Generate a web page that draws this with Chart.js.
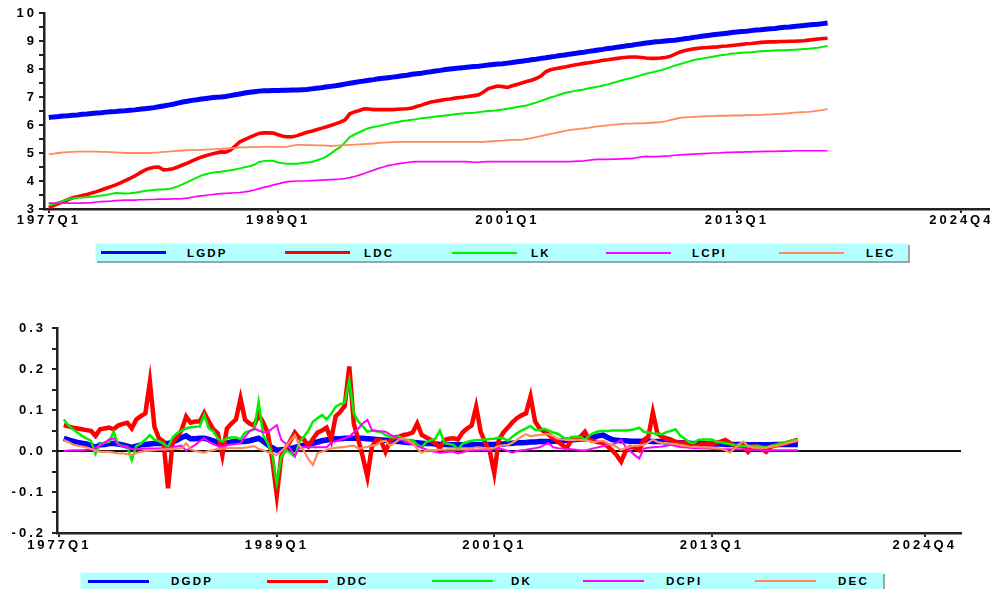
<!DOCTYPE html>
<html>
<head>
<meta charset="utf-8">
<script src="https://cdn.jsdelivr.net/npm/chart.js@4.4.0/dist/chart.umd.min.js"></script>
<style>
  body { margin:0; background:#fff; width:990px; height:589px; position:relative; overflow:hidden; font-family:'Liberation Sans', Arial, sans-serif; }
  canvas { position:absolute; left:0; }
  .legend { position:absolute; background:#b3ffff; border-top:1px solid #dff; border-left:1px solid #dff; box-shadow:2px 2px 0 #9aa6a6; }
  .legend .line { position:absolute; }
  .legend .txt { position:absolute; top:50%; transform:translateY(-50%); font-weight:bold; font-size:11.5px; letter-spacing:2.2px; color:#000; }
</style>
</head>
<body>
<canvas id="levels" width="990" height="236" style="top:0"></canvas>
<div id="levelsLegend" class="legend" style="left:95px; top:243px; width:812px; height:17px"></div>
<canvas id="diffs" width="990" height="262" style="top:300px"></canvas>
<div id="diffsLegend" class="legend" style="left:80px; top:572px; width:802px; height:16px"></div>

<script>
//quarter labels for the time axis, 1977Q1 .. 2026Q4
let quarters = []
for (let y = 1977; y <= 2026; y++) {
    for (let q = 1; q <= 4; q++) quarters.push(y + 'Q' + q)
}
let tickLabels = ['1977Q1', '1989Q1', '2001Q1', '2013Q1', '2024Q4']

let levelNames = ['LGDP', 'LDC', 'LK', 'LCPI', 'LEC']
let diffNames = ['DGDP', 'DDC', 'DK', 'DCPI', 'DEC']

//levels, 1977Q1 .. 2017Q4
let lgdp = [
 6.27,6.29,6.30,6.32,6.33,6.35,6.36,6.38,6.39,6.41,6.43,6.44,
 6.46,6.47,6.48,6.50,6.51,6.53,6.54,6.56,6.58,6.60,6.62,6.65,
 6.68,6.71,6.74,6.78,6.82,6.85,6.88,6.90,6.93,6.95,6.97,6.99,
 7.00,7.02,7.05,7.08,7.11,7.14,7.17,7.19,7.21,7.22,7.22,7.23,
 7.23,7.24,7.24,7.25,7.25,7.26,7.27,7.29,7.31,7.33,7.36,7.38,
 7.40,7.43,7.46,7.49,7.52,7.55,7.57,7.60,7.62,7.65,7.67,7.69,
 7.71,7.73,7.76,7.78,7.81,7.83,7.85,7.88,7.90,7.93,7.95,7.98,
 8.00,8.02,8.04,8.05,8.07,8.09,8.10,8.12,8.14,8.16,8.18,8.19,
 8.21,8.23,8.26,8.28,8.30,8.33,8.35,8.38,8.40,8.43,8.45,8.48,
 8.50,8.53,8.55,8.58,8.60,8.63,8.65,8.68,8.70,8.73,8.75,8.78,
 8.80,8.83,8.85,8.88,8.90,8.93,8.95,8.97,8.98,9.00,9.02,9.03,
 9.05,9.08,9.10,9.13,9.15,9.18,9.20,9.22,9.24,9.26,9.28,9.30,
 9.32,9.34,9.35,9.37,9.39,9.40,9.42,9.44,9.45,9.47,9.49,9.50,
 9.52,9.54,9.55,9.57,9.59,9.60,9.62,9.64]
let ldc = [
 3.05,3.12,3.19,3.26,3.33,3.40,3.44,3.48,3.52,3.57,3.62,3.68,
 3.74,3.80,3.86,3.93,4.01,4.09,4.18,4.28,4.38,4.45,4.49,4.50,
 4.40,4.41,4.44,4.50,4.57,4.64,4.72,4.79,4.86,4.91,4.96,5.00,
 5.04,5.03,5.10,5.25,5.40,5.48,5.56,5.63,5.70,5.72,5.72,5.71,
 5.65,5.60,5.58,5.58,5.62,5.68,5.74,5.78,5.83,5.88,5.93,5.98,
 6.04,6.10,6.18,6.40,6.47,6.52,6.58,6.57,6.55,6.55,6.55,6.55,
 6.55,6.56,6.57,6.58,6.61,6.66,6.71,6.77,6.82,6.85,6.88,6.91,
 6.93,6.96,6.98,7.00,7.03,7.05,7.08,7.18,7.30,7.35,7.39,7.37,
 7.34,7.40,7.45,7.50,7.55,7.60,7.66,7.75,7.90,7.97,8.01,8.04,
 8.07,8.11,8.14,8.17,8.20,8.22,8.25,8.28,8.31,8.33,8.36,8.38,
 8.40,8.42,8.43,8.43,8.41,8.39,8.38,8.38,8.39,8.41,8.45,8.52,
 8.60,8.65,8.69,8.72,8.74,8.76,8.77,8.78,8.79,8.81,8.82,8.84,
 8.86,8.88,8.90,8.91,8.93,8.95,8.96,8.97,8.97,8.98,8.98,8.99,
 8.99,9.00,9.01,9.03,9.05,9.07,9.09,9.10]
let lk = [
 3.12,3.18,3.24,3.29,3.34,3.38,3.40,3.41,3.42,3.44,3.46,3.48,
 3.50,3.54,3.57,3.56,3.55,3.56,3.58,3.61,3.64,3.66,3.68,3.70,
 3.70,3.71,3.75,3.81,3.88,3.96,4.04,4.12,4.20,4.25,4.29,4.31,
 4.33,4.36,4.38,4.41,4.45,4.49,4.53,4.58,4.68,4.71,4.72,4.72,
 4.66,4.63,4.62,4.62,4.62,4.64,4.66,4.68,4.73,4.79,4.86,4.98,
 5.10,5.21,5.38,5.57,5.66,5.74,5.82,5.89,5.93,5.96,6.00,6.04,
 6.08,6.11,6.14,6.16,6.19,6.21,6.24,6.26,6.28,6.30,6.32,6.34,
 6.36,6.38,6.40,6.42,6.43,6.44,6.46,6.48,6.50,6.51,6.53,6.55,
 6.58,6.61,6.64,6.67,6.70,6.75,6.80,6.86,6.92,6.98,7.03,7.09,
 7.14,7.18,7.21,7.24,7.27,7.31,7.34,7.37,7.41,7.45,7.50,7.55,
 7.60,7.64,7.68,7.73,7.78,7.83,7.87,7.91,7.95,8.00,8.06,8.12,
 8.17,8.22,8.27,8.32,8.35,8.38,8.41,8.44,8.47,8.50,8.52,8.55,
 8.56,8.58,8.59,8.60,8.62,8.63,8.64,8.65,8.66,8.67,8.67,8.68,
 8.69,8.70,8.71,8.72,8.74,8.76,8.79,8.82]
let lcpi = [
 3.21,3.21,3.21,3.21,3.21,3.21,3.21,3.21,3.22,3.23,3.25,3.26,
 3.27,3.28,3.30,3.31,3.32,3.32,3.32,3.33,3.33,3.34,3.34,3.35,
 3.35,3.35,3.36,3.36,3.37,3.39,3.42,3.45,3.47,3.49,3.51,3.53,
 3.55,3.56,3.57,3.58,3.59,3.61,3.64,3.68,3.73,3.77,3.81,3.86,
 3.90,3.94,3.98,3.99,4.00,4.00,4.00,4.01,4.02,4.03,4.04,4.05,
 4.06,4.07,4.09,4.12,4.16,4.21,4.27,4.33,4.39,4.45,4.50,4.55,
 4.58,4.61,4.64,4.66,4.68,4.69,4.69,4.69,4.69,4.69,4.69,4.69,
 4.69,4.69,4.69,4.69,4.68,4.67,4.67,4.68,4.69,4.69,4.69,4.69,
 4.69,4.69,4.69,4.69,4.69,4.69,4.69,4.69,4.69,4.69,4.69,4.69,
 4.69,4.69,4.70,4.71,4.72,4.74,4.76,4.77,4.77,4.77,4.78,4.78,
 4.79,4.80,4.80,4.83,4.86,4.88,4.87,4.87,4.88,4.89,4.90,4.92,
 4.93,4.94,4.95,4.96,4.97,4.98,4.99,5.00,5.00,5.01,5.02,5.02,
 5.03,5.03,5.04,5.04,5.05,5.05,5.06,5.06,5.06,5.07,5.07,5.07,
 5.08,5.08,5.08,5.08,5.08,5.08,5.08,5.08]
let lec = [
 4.95,4.98,5.00,5.02,5.03,5.04,5.05,5.05,5.05,5.05,5.05,5.04,
 5.04,5.03,5.02,5.01,5.00,5.00,5.00,5.00,5.00,5.00,5.01,5.02,
 5.04,5.05,5.07,5.08,5.09,5.10,5.10,5.11,5.11,5.12,5.13,5.14,
 5.15,5.16,5.17,5.18,5.20,5.20,5.21,5.21,5.21,5.22,5.22,5.22,
 5.22,5.22,5.23,5.26,5.29,5.29,5.28,5.28,5.27,5.27,5.26,5.25,
 5.26,5.27,5.28,5.29,5.30,5.31,5.32,5.33,5.34,5.36,5.37,5.38,
 5.39,5.40,5.40,5.40,5.40,5.40,5.40,5.40,5.40,5.40,5.40,5.40,
 5.40,5.40,5.40,5.40,5.40,5.40,5.40,5.40,5.41,5.42,5.43,5.44,
 5.46,5.47,5.47,5.48,5.50,5.53,5.57,5.60,5.64,5.68,5.71,5.75,
 5.79,5.82,5.84,5.86,5.88,5.90,5.93,5.95,5.97,5.99,6.01,6.02,
 6.04,6.05,6.05,6.06,6.06,6.07,6.08,6.09,6.10,6.13,6.17,6.21,
 6.25,6.27,6.28,6.29,6.30,6.31,6.32,6.32,6.33,6.33,6.33,6.34,
 6.34,6.34,6.35,6.35,6.35,6.36,6.37,6.38,6.39,6.40,6.41,6.42,
 6.44,6.45,6.46,6.47,6.49,6.51,6.54,6.57]

//differences, first quarter empty
let dgdp = [null,
 0.031,0.027,0.024,0.021,0.019,0.017,0.014,0.009,0.015,0.016,0.018,0.018,
 0.017,0.015,0.012,0.009,0.012,0.015,0.016,0.017,0.018,0.018,0.018,0.018,
 0.022,0.027,0.033,0.037,0.030,0.030,0.031,0.031,0.028,0.025,0.020,0.016,
 0.019,0.022,0.023,0.023,0.023,0.025,0.028,0.031,0.024,0.015,0.008,0.002,
 0.003,0.004,0.006,0.009,0.012,0.014,0.017,0.019,0.022,0.025,0.027,0.029,
 0.030,0.030,0.031,0.031,0.031,0.031,0.031,0.030,0.029,0.028,0.027,0.026,
 0.025,0.024,0.023,0.022,0.021,0.021,0.020,0.019,0.018,0.018,0.017,0.016,
 0.016,0.015,0.015,0.015,0.015,0.015,0.015,0.015,0.015,0.015,0.016,0.016,
 0.017,0.017,0.018,0.019,0.020,0.020,0.021,0.022,0.022,0.023,0.023,0.023,
 0.024,0.024,0.025,0.026,0.027,0.028,0.029,0.030,0.031,0.034,0.037,0.039,
 0.033,0.028,0.026,0.025,0.025,0.024,0.024,0.024,0.024,0.024,0.023,0.023,
 0.023,0.022,0.022,0.021,0.020,0.020,0.019,0.018,0.018,0.018,0.017,0.017,
 0.017,0.017,0.016,0.016,0.016,0.016,0.016,0.015,0.015,0.015,0.015,0.015,
 0.015,0.016,0.016,0.016,0.016,0.016,0.016]
let ddc = [null,
 0.063,0.060,0.057,0.055,0.053,0.051,0.049,0.037,0.053,0.055,0.057,0.053,
 0.062,0.066,0.069,0.055,0.077,0.085,0.092,0.169,0.059,0.031,0.023,-0.091,
 0.019,0.035,0.051,0.084,0.069,0.072,0.072,0.093,0.072,0.053,0.043,-0.010,
 0.055,0.067,0.077,0.128,0.076,0.067,0.062,0.088,0.070,0.045,-0.020,-0.108,
 -0.012,0.006,0.025,0.045,0.031,0.028,0.012,0.030,0.045,0.050,0.057,0.027,
 0.085,0.095,0.110,0.206,0.067,0.027,-0.015,-0.063,0.011,0.027,0.025,-0.002,
 0.025,0.033,0.035,0.039,0.041,0.045,0.067,0.039,0.033,0.027,0.018,0.007,
 0.027,0.030,0.031,0.028,0.045,0.055,0.062,0.108,0.047,0.020,0.000,-0.054,
 0.027,0.045,0.057,0.070,0.080,0.087,0.092,0.133,0.072,0.055,0.047,0.040,
 0.031,0.023,0.015,0.007,0.027,0.028,0.035,0.047,0.027,0.024,0.021,0.020,
 0.011,0.002,-0.010,-0.026,0.000,0.010,0.008,0.002,0.027,0.035,0.094,0.043,
 0.035,0.031,0.028,0.022,0.020,0.020,0.017,0.012,0.015,0.017,0.017,0.017,
 0.020,0.023,0.027,0.020,0.013,0.014,0.012,-0.002,0.010,0.012,0.005,-0.002,
 0.010,0.013,0.016,0.018,0.021,0.024,0.028]
let dk = [null,
 0.077,0.063,0.053,0.045,0.037,0.031,0.025,-0.007,0.017,0.020,0.022,0.047,
 0.016,0.012,0.010,-0.022,0.012,0.018,0.028,0.039,0.027,0.024,0.018,0.009,
 0.033,0.043,0.050,0.055,0.058,0.059,0.060,0.088,0.055,0.048,0.030,0.023,
 0.031,0.033,0.033,0.029,0.045,0.049,0.052,0.120,0.039,0.019,-0.010,-0.079,
 -0.014,0.002,-0.005,-0.014,0.023,0.035,0.050,0.072,0.080,0.088,0.077,0.090,
 0.108,0.114,0.118,0.173,0.092,0.072,0.060,0.047,0.050,0.048,0.046,0.039,
 0.034,0.033,0.035,0.028,0.027,0.027,0.015,0.009,0.022,0.026,0.030,0.050,
 0.019,0.017,0.015,0.004,0.018,0.022,0.025,0.026,0.027,0.028,0.029,0.030,
 0.033,0.031,0.025,0.035,0.043,0.050,0.055,0.061,0.052,0.051,0.054,0.050,
 0.045,0.042,0.035,0.027,0.034,0.035,0.034,0.027,0.038,0.044,0.048,0.049,
 0.049,0.050,0.050,0.050,0.050,0.051,0.053,0.057,0.047,0.045,0.043,0.042,
 0.041,0.046,0.049,0.053,0.038,0.030,0.022,0.019,0.027,0.028,0.028,0.028,
 0.023,0.021,0.019,0.017,0.014,0.012,0.012,0.012,0.012,0.012,0.011,0.009,
 0.012,0.015,0.018,0.021,0.023,0.026,0.028]
let dcpi = [null,
 0.000,0.001,0.002,0.002,0.002,0.003,0.004,0.008,0.013,0.020,0.028,0.031,
 0.015,0.012,0.009,0.005,0.004,0.005,0.006,0.006,0.006,0.006,0.007,0.008,
 0.009,0.011,0.013,0.001,0.008,0.015,0.024,0.031,0.022,0.017,0.012,0.009,
 0.014,0.016,0.017,0.019,0.035,0.048,0.055,0.050,0.046,0.046,0.055,0.063,
 0.027,0.018,0.005,-0.012,0.008,0.010,0.009,0.009,0.009,0.009,0.009,0.020,
 0.024,0.027,0.031,0.035,0.045,0.055,0.068,0.076,0.051,0.049,0.048,0.047,
 0.040,0.035,0.030,0.024,0.020,0.016,0.012,0.008,0.004,0.000,-0.002,-0.004,
 -0.003,-0.002,-0.002,-0.006,-0.003,0.000,0.001,0.002,0.002,0.002,0.003,0.005,
 0.006,0.004,0.000,-0.004,0.000,0.002,0.003,0.005,0.007,0.009,0.015,0.019,
 0.009,0.007,0.006,0.005,0.004,0.003,0.002,0.001,0.004,0.007,0.009,0.012,
 0.015,0.015,0.020,0.027,0.010,0.000,-0.010,-0.018,0.006,0.008,0.009,0.010,
 0.011,0.013,0.015,0.012,0.010,0.009,0.008,0.007,0.007,0.006,0.006,0.005,
 0.005,0.004,0.004,0.004,0.004,0.004,0.004,0.003,0.003,0.003,0.002,0.002,
 0.002,0.002,0.002,0.002,0.002,0.002,0.002]
let dec = [null,
 0.027,0.022,0.016,0.013,0.011,0.009,0.005,0.001,-0.002,-0.002,-0.002,-0.004,
 -0.006,-0.006,-0.008,-0.010,-0.005,-0.002,0.000,0.001,0.002,0.003,0.004,0.004,
 0.005,0.006,0.007,0.019,0.004,0.000,-0.002,-0.004,0.000,0.002,0.005,0.006,
 0.007,0.007,0.007,0.007,0.008,0.010,0.012,0.005,0.002,-0.003,-0.006,-0.010,
 0.000,0.010,0.025,0.039,0.013,0.000,-0.020,-0.034,-0.005,-0.002,0.003,0.006,
 0.008,0.009,0.010,0.012,0.013,0.006,0.008,0.010,0.013,0.015,0.023,0.025,
 0.013,0.020,0.028,0.031,0.025,0.020,0.005,-0.004,0.001,0.002,0.002,0.003,
 0.003,0.004,0.004,0.004,0.004,0.004,0.006,0.009,0.008,0.007,0.006,0.008,
 0.012,0.014,0.015,0.020,0.027,0.035,0.041,0.036,0.038,0.039,0.040,0.041,
 0.036,0.030,0.028,0.027,0.027,0.027,0.027,0.027,0.024,0.021,0.024,0.025,
 0.019,0.015,0.010,0.002,0.008,0.011,0.013,0.014,0.015,0.021,0.028,0.022,
 0.020,0.019,0.018,0.017,0.015,0.013,0.011,0.010,0.010,0.009,0.009,0.008,
 0.007,0.006,0.002,-0.004,0.006,0.016,0.023,0.012,0.009,0.008,0.007,0.008,
 0.010,0.012,0.014,0.017,0.020,0.023,0.025]

let colors = ['#0000ff', '#ff0000', '#00ee00', '#ff00ff', '#ff8a5c']
let levelWidths = [5, 3.6, 2, 1.7, 1.8]
let diffWidths = [5.5, 4.5, 2.5, 2, 2.2]

const axisFont = { family: 'Liberation Sans', weight: 'bold', size: 13 }

//wide letter spacing on the axis labels
const spacing = {
    id: 'spacing',
    beforeDraw(chart) { chart.ctx.letterSpacing = '3px' }
}

//black line at zero for the differences panel
const zeroLine = {
    id: 'zeroLine',
    beforeDatasetsDraw(chart) {
        let y = chart.scales.y.getPixelForValue(0)
        let ctx = chart.ctx
        ctx.save()
        ctx.strokeStyle = '#111'
        ctx.lineWidth = 2
        ctx.beginPath()
        ctx.moveTo(chart.chartArea.left, y)
        ctx.lineTo(chart.chartArea.right, y)
        ctx.stroke()
        ctx.restore()
    }
}

function makeChart(canvasId, names, series, widths, o) {
    let datasets = names.map((name, i) => ({
        label: name,
        data: series[i].map((v, j) => ({ x: j, y: v })),
        borderColor: colors[i],
        borderWidth: widths[i],
        pointRadius: 0,
        tension: 0,
        spanGaps: false,
        order: names.length - i
    }))

    return new Chart(document.getElementById(canvasId), {
        type: 'line',
        data: { datasets: datasets },
        options: {
            responsive: false,
            animation: false,
            events: [],
            layout: { padding: o.padding },
            plugins: { legend: { display: false }, tooltip: { enabled: false } },
            scales: {
                x: {
                    type: 'linear',
                    min: o.xMin, max: o.xMax,
                    afterFit: (s) => { s.height = o.xHeight },
                    afterBuildTicks: (s) => { s.ticks = tickLabels.map(l => ({ value: quarters.indexOf(l) })) },
                    border: { color: '#222', width: 2.5 },
                    grid: { drawOnChartArea: false, color: '#222', lineWidth: 2, tickLength: 4 },
                    ticks: { autoSkip: false, maxRotation: 0, padding: o.xPad, color: '#000', font: axisFont,
                        callback: (v) => quarters[v] }
                },
                y: {
                    min: o.yMin, max: o.yMax,
                    afterFit: (s) => { s.width = o.yWidth },
                    border: { color: '#222', width: 2.5 },
                    grid: { drawOnChartArea: false, color: '#222', lineWidth: 2, tickLength: 5 },
                    ticks: { stepSize: o.yStep, maxTicksLimit: 40, autoSkip: false, padding: o.yPad, color: '#000', font: axisFont,
                        callback: o.yLabel }
                }
            }
        },
        plugins: o.plugins
    })
}

makeChart('levels', levelNames, [lgdp, ldc, lk, lcpi, lec], levelWidths, {
    padding: { top: 13, right: 0, left: 0, bottom: 0 },
    xMin: -1, xMax: 197, xHeight: 27, xPad: 0,
    yMin: 3, yMax: 10, yStep: 0.5, yWidth: 44, yPad: 2,
    yLabel: (v) => Number.isInteger(v) ? String(v) : '',
    plugins: [spacing]
})

makeChart('diffs', diffNames, [dgdp, ddc, dk, dcpi, dec], diffWidths, {
    padding: { top: 28, right: 29, left: 0, bottom: 0 },
    xMin: -0.5, xMax: 199, xHeight: 29, xPad: 1,
    yMin: -0.2, yMax: 0.3, yStep: 0.05, yWidth: 57, yPad: 6,
    yLabel: (v) => Math.round(v * 100) % 10 === 0 ? v.toFixed(1) : '',
    plugins: [spacing, zeroLine]
})

//legend boxes under each panel
function buildLegend(id, names, lineX, textX, lineLen, lineW) {
    let box = document.getElementById(id)
    names.forEach((name, i) => {
        let line = document.createElement('div')
        line.className = 'line'
        line.style.left = lineX[i] + 'px'
        line.style.width = lineLen + 'px'
        line.style.height = lineW[i] + 'px'
        line.style.top = 'calc(50% - ' + (lineW[i] / 2) + 'px)'
        line.style.background = colors[i]
        box.append(line)

        let txt = document.createElement('div')
        txt.className = 'txt'
        txt.style.left = textX[i] + 'px'
        txt.innerText = name
        box.append(txt)
    })
}

buildLegend('levelsLegend', levelNames, [5, 189, 356, 510, 683], [91, 268, 435, 596, 770], 65, [3, 3, 2, 2, 2])
buildLegend('diffsLegend', diffNames, [7, 186, 351, 502, 674], [90, 256, 430, 585, 757], 61, [3, 3, 2, 2, 2])
</script>
</body>
</html>
